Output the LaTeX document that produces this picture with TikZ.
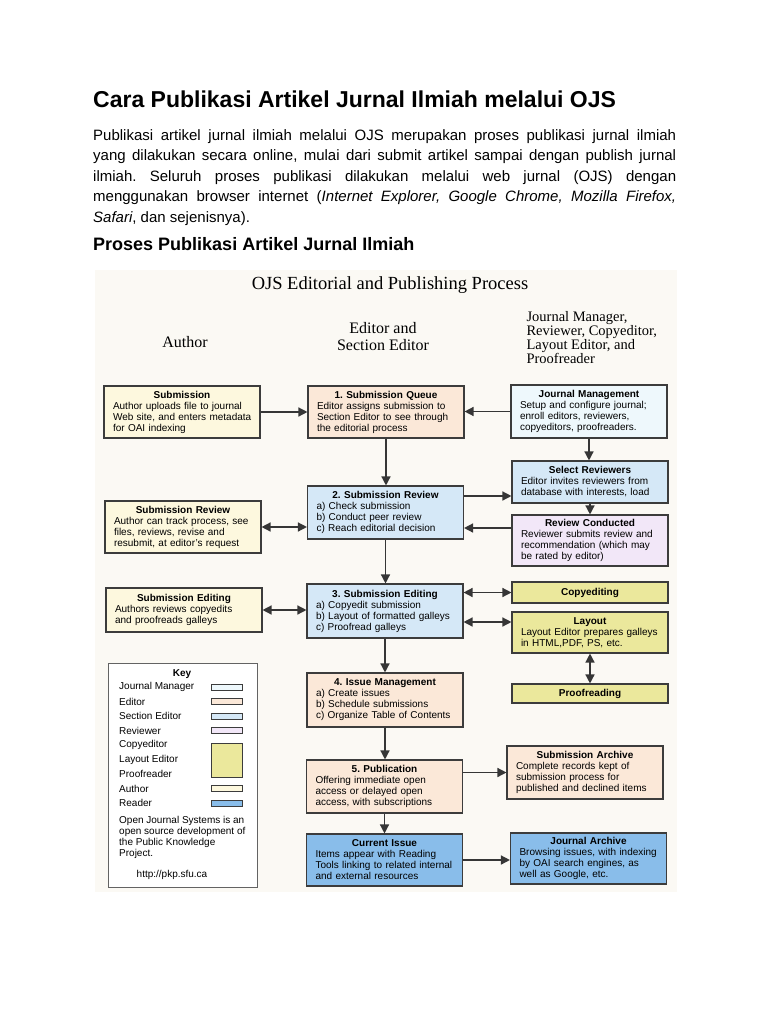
\documentclass[tikz,border=0pt]{standalone}
\usepackage{fontspec}
\setmainfont{Liberation Sans}
\newfontfamily\ojsserif{Liberation Serif}
\usetikzlibrary{arrows.meta}

\definecolor{bgcream}{HTML}{FBF9F4}
\definecolor{authorc}{HTML}{FDF8DE}
\definecolor{editorc}{HTML}{FBE8D8}
\definecolor{sectionc}{HTML}{D5E8F7}
\definecolor{managerc}{HTML}{EEF8FC}
\definecolor{reviewerc}{HTML}{F2E7F8}
\definecolor{copyc}{HTML}{EBE89C}
\definecolor{readerc}{HTML}{89BDEA}
\definecolor{edgec}{HTML}{3C3C3C}

\newcommand{\ojstext}[2]{{\centering\bfseries #1\par}{\parindent=0pt\leftskip=4pt\relax #2\par}}

\tikzset{
	ojsbox/.style={draw=edgec, line width=1.1pt, text width=146pt, inner xsep=5pt, inner ysep=2pt,
		align=left, font=\fontsize{10}{11}\selectfont},
	arr/.style={draw=edgec!90!black, line width=1.4pt, -{Triangle[length=9pt,width=9pt]}},
	darr/.style={draw=edgec!90!black, line width=1.4pt, {Triangle[length=9pt,width=9pt]}-{Triangle[length=9pt,width=9pt]}},
	keyrow/.style={anchor=west, inner sep=0pt, font=\fontsize{10}{11}\selectfont},
	swatch/.style={draw=edgec, line width=0.9pt}
}

\begin{document}
\frenchspacing
\begin{tikzpicture}[x=1pt,y=-1pt]
	\fill[white] (0,0) rectangle (768,1024);
	\useasboundingbox (0,0) rectangle (768,1024);

	% page text
	\node[anchor=base west, inner sep=0pt, font=\bfseries\fontsize{23}{26}\selectfont] (title) at (93,108)
		{Cara Publikasi Artikel Jurnal Ilmiah melalui OJS};
	\node[anchor=north west, inner sep=0pt, text width=583pt, align=justify, font=\fontsize{15}{20.5}\selectfont] (intro) at (93,129)
		{Publikasi artikel jurnal ilmiah melalui OJS merupakan proses publikasi jurnal ilmiah\linebreak
		yang dilakukan secara online, mulai dari submit artikel sampai dengan publish jurnal\linebreak
		ilmiah. Seluruh proses publikasi dilakukan melalui web jurnal (OJS) dengan\linebreak
		menggunakan browser internet (\textit{Internet Explorer, Google Chrome, Mozilla Firefox,}\linebreak
		\textit{Safari}, dan sejenisnya).};
	\node[anchor=base west, inner sep=0pt, font=\bfseries\fontsize{18}{21}\selectfont] (subtitle) at (93,251)
		{Proses Publikasi Artikel Jurnal Ilmiah};

	% diagram
	\fill[bgcream] (95,270) rectangle (677,892);
	\node[font=\ojsserif\fontsize{18.5}{20}\selectfont] (ojstitle) at (390,285) {OJS Editorial and Publishing Process};
	\node[font=\ojsserif\fontsize{16}{17}\selectfont] (colauthor) at (185,342) {Author};
	\node[font=\ojsserif\fontsize{16}{17}\selectfont, align=center] (coleditor) at (383,337) {Editor and\\Section Editor};
	\node[font=\ojsserif\fontsize{14.5}{13}\selectfont, align=left, anchor=west] (colstaff) at (523,337.5)
		{Journal Manager,\\Reviewer, Copyeditor,\\Layout Editor, and\\Proofreader};

	% author column
	\node[ojsbox, fill=authorc, minimum height=52pt] (sub) at (182,412)
		{\ojstext{Submission}{Author uploads file to journal\\Web site, and enters metadata\\for OAI indexing}};
	\node[ojsbox, fill=authorc, minimum height=52pt] (subrev) at (183,527)
		{\ojstext{Submission Review}{Author can track process, see\\files, reviews, revise and\\resubmit, at editor's request}};
	\node[ojsbox, fill=authorc, minimum height=44pt] (subedit) at (184,610)
		{\ojstext{Submission Editing}{Authors reviews copyedits\\and proofreads galleys}};

	% editor column
	\node[ojsbox, fill=editorc, minimum height=52pt] (queue) at (386,412)
		{\ojstext{1. Submission Queue}{Editor assigns submission to\\Section Editor to see through\\the editorial process}};
	\node[ojsbox, fill=sectionc, minimum height=53pt] (review) at (385.5,512.5)
		{\ojstext{2. Submission Review}{a) Check submission\\b) Conduct peer review\\c) Reach editorial decision}};
	\node[ojsbox, fill=sectionc, minimum height=54pt] (editing) at (385,611)
		{\ojstext{3. Submission Editing}{a) Copyedit submission\\b) Layout of formatted galleys\\c) Proofread galleys}};
	\node[ojsbox, fill=editorc, minimum height=54pt] (issue) at (385,700)
		{\ojstext{4. Issue Management}{a) Create issues\\b) Schedule submissions\\c) Organize Table of Contents}};
	\node[ojsbox, fill=editorc, minimum height=53pt] (publication) at (384.5,786.5)
		{\ojstext{5. Publication}{Offering immediate open\\access or delayed open\\access, with subscriptions}};
	\node[ojsbox, fill=readerc, minimum height=52pt] (current) at (384.5,860)
		{\ojstext{Current Issue}{Items appear with Reading\\Tools linking to related internal\\and external resources}};

	% staff column
	\node[ojsbox, fill=managerc, minimum height=53pt] (manage) at (589,411.5)
		{\ojstext{Journal Management}{Setup and configure journal;\\enroll editors, reviewers,\\copyeditors, proofreaders.}};
	\node[ojsbox, fill=sectionc, minimum height=42pt] (select) at (590,482)
		{\ojstext{Select Reviewers}{Editor invites reviewers from\\database with interests, load}};
	\node[ojsbox, fill=reviewerc, minimum height=51pt] (conduct) at (590,540.5)
		{\ojstext{Review Conducted}{Reviewer submits review and\\recommendation (which may\\be rated by editor)}};
	\node[ojsbox, fill=copyc, minimum height=21pt] (copyed) at (590,592.5) {\ojstext{Copyediting}{}};
	\node[ojsbox, fill=copyc, minimum height=41pt] (layout) at (590,632.5)
		{\ojstext{Layout}{Layout Editor prepares galleys\\in HTML,PDF, PS, etc.}};
	\node[ojsbox, fill=copyc, minimum height=19pt] (proof) at (590,693.5) {\ojstext{Proofreading}{}};
	\node[ojsbox, fill=editorc, minimum height=53pt] (archive) at (585,772.5)
		{\ojstext{Submission Archive}{Complete records kept of\\submission process for\\published and declined items}};
	\node[ojsbox, fill=readerc, minimum height=51pt] (jarchive) at (588.5,858.5)
		{\ojstext{Journal Archive}{Browsing issues, with indexing\\by OAI search engines, as\\well as Google, etc.}};

	% connectors
	\draw[arr] (sub.east) -- (sub.east -| queue.west);
	\draw[arr] (manage.west) -- (manage.west -| queue.east);
	\draw[arr] (queue.south) -- (queue.south |- review.north);
	\draw[arr] (manage.south) -- (manage.south |- select.north);
	\coordinate (rs) at ([yshift=16.5pt]review.east);
	\draw[arr] (rs) -- (rs -| select.west);
	\draw[arr] (select.south) -- (select.south |- conduct.north);
	\coordinate (cr) at ([yshift=12.5pt]conduct.west);
	\draw[arr] (cr) -- (cr -| review.east);
	\draw[darr] (subrev.east) -- (subrev.east -| review.west);
	\draw[arr] (review.south) -- (review.south |- editing.north);
	\draw[darr] (subedit.east) -- (subedit.east -| editing.west);
	\draw[darr] (copyed.west -| editing.east) -- (copyed.west);
	\coordinate (el) at ([yshift=-11pt]editing.east);
	\draw[darr] (el) -- (el -| layout.west);
	\draw[darr] (layout.south) -- (layout.south |- proof.north);
	\draw[arr] (editing.south) -- (editing.south |- issue.north);
	\draw[arr] (issue.south) -- (issue.south |- publication.north);
	\draw[arr] (archive.west -| publication.east) -- (archive.west);
	\draw[arr] (publication.south) -- (publication.south |- current.north);
	\draw[arr] (current.east) -- (current.east -| jarchive.west);

	% key
	\node[draw=edgec!80, line width=0.9pt, fill=white, minimum width=149pt, minimum height=224pt] (key) at (182.5,775) {};
	\node[font=\bfseries\fontsize{10}{11}\selectfont] (keytitle) at (182,674) {Key};
	\foreach \lab [count=\i from 0] in {Journal Manager, Editor, Section Editor, Reviewer, Copyeditor,
		Layout Editor, Proofreader, Author, Reader}{
		\node[keyrow] (key\i) at (119,687+14.5*\i) {\lab};
	}
	\foreach \yy/\cc in {687/managerc, 701.5/editorc, 716/sectionc, 730.5/reviewerc, 788/authorc, 803/readerc}{
		\draw[swatch, fill=\cc] (211,\yy-3) rectangle (242,\yy+3);
	}
	\draw[swatch, fill=copyc] (211,743) rectangle (242,777);
	\node[anchor=north west, inner sep=0pt, align=left, font=\fontsize{10}{11}\selectfont] (keynote) at (119,816)
		{Open Journal Systems is an\\open source development of\\the Public Knowledge\\Project.};
	\node[font=\fontsize{10}{11}\selectfont] (keyurl) at (172,875) {http://pkp.sfu.ca};
\end{tikzpicture}
\end{document}
